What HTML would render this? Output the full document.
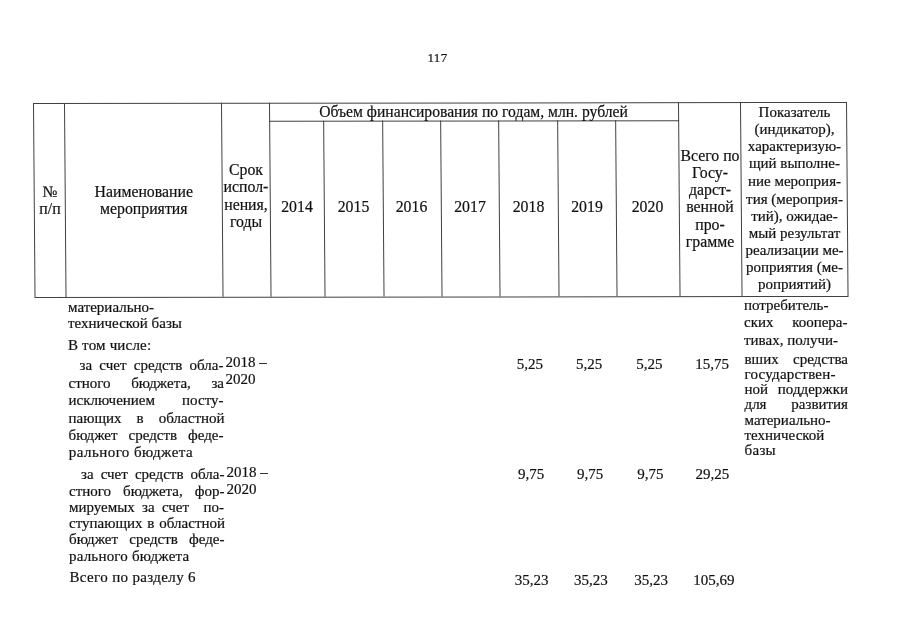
<!DOCTYPE html>
<html lang="ru"><head><meta charset="utf-8"><title>117</title>
<style>
html,body{margin:0;padding:0;background:#fff;}
body{width:905px;height:640px;position:relative;overflow:hidden;}
#wrap{position:absolute;left:0;top:0;width:905px;height:640px;will-change:transform;}
.t{position:absolute;white-space:nowrap;line-height:20px;font-family:"Liberation Serif", "Times New Roman", serif;color:#111;-webkit-text-stroke:0.2px #111;}
.l{position:absolute;background:#404040;}
#grid{position:absolute;left:0;top:0;width:905px;height:640px;transform-origin:33px 103px;transform:skew(0.45deg,-0.07deg);}
</style></head><body>
<div id="wrap">
<div id="grid">
<div class="l" style="left:32.6px;top:103px;width:814.6px;height:1px"></div>
<div class="l" style="left:268.5px;top:121px;width:410.20000000000005px;height:1px"></div>
<div class="l" style="left:32.6px;top:296.8px;width:814.6px;height:1px"></div>
<div class="l" style="left:32.6px;top:103px;width:1px;height:194px"></div>
<div class="l" style="left:63.6px;top:103px;width:1px;height:194px"></div>
<div class="l" style="left:221.4px;top:103px;width:1px;height:194px"></div>
<div class="l" style="left:268.5px;top:103px;width:1px;height:194px"></div>
<div class="l" style="left:677.7px;top:103px;width:1px;height:194px"></div>
<div class="l" style="left:740.0px;top:103px;width:1px;height:194px"></div>
<div class="l" style="left:846.2px;top:103px;width:1px;height:194px"></div>
<div class="l" style="left:323.1px;top:121px;width:1px;height:176px"></div>
<div class="l" style="left:381.7px;top:121px;width:1px;height:176px"></div>
<div class="l" style="left:439.7px;top:121px;width:1px;height:176px"></div>
<div class="l" style="left:498.1px;top:121px;width:1px;height:176px"></div>
<div class="l" style="left:556.8px;top:121px;width:1px;height:176px"></div>
<div class="l" style="left:615.2px;top:121px;width:1px;height:176px"></div>
</div>
<div class="t" style="left:417.50px;top:48px;font-size:13px;width:40.00px;text-align:center;letter-spacing:0.4px;">117</div>
<div class="t" style="left:33.00px;top:182px;font-size:15.8px;width:34.00px;text-align:center;">№</div>
<div class="t" style="left:33.00px;top:199px;font-size:15.8px;width:34.00px;text-align:center;">п/п</div>
<div class="t" style="left:64.00px;top:182px;font-size:15.8px;width:159.50px;text-align:center;">Наименование</div>
<div class="t" style="left:64.00px;top:199px;font-size:15.8px;width:159.50px;text-align:center;">мероприятия</div>
<div class="t" style="left:222.00px;top:160px;font-size:15.8px;width:48.00px;text-align:center;">Срок</div>
<div class="t" style="left:222.00px;top:177px;font-size:15.8px;width:48.00px;text-align:center;">испол-</div>
<div class="t" style="left:222.00px;top:195px;font-size:15.8px;width:48.00px;text-align:center;">нения,</div>
<div class="t" style="left:222.00px;top:212px;font-size:15.8px;width:48.00px;text-align:center;">годы</div>
<div class="t" style="left:269.00px;top:102px;font-size:15.65px;width:409.00px;text-align:center;">Объем финансирования по годам, млн. рублей</div>
<div class="t" style="left:269.00px;top:197px;font-size:15.8px;width:56.00px;text-align:center;">2014</div>
<div class="t" style="left:324.00px;top:197px;font-size:15.8px;width:59.00px;text-align:center;">2015</div>
<div class="t" style="left:382.00px;top:197px;font-size:15.8px;width:59.00px;text-align:center;">2016</div>
<div class="t" style="left:440.00px;top:197px;font-size:15.8px;width:60.00px;text-align:center;">2017</div>
<div class="t" style="left:499.00px;top:197px;font-size:15.8px;width:59.00px;text-align:center;">2018</div>
<div class="t" style="left:557.00px;top:197px;font-size:15.8px;width:60.00px;text-align:center;">2019</div>
<div class="t" style="left:616.00px;top:197px;font-size:15.8px;width:63.00px;text-align:center;">2020</div>
<div class="t" style="left:678.00px;top:146px;font-size:15.8px;width:64.00px;text-align:center;">Всего по</div>
<div class="t" style="left:678.00px;top:163px;font-size:15.8px;width:64.00px;text-align:center;">Госу-</div>
<div class="t" style="left:678.00px;top:180px;font-size:15.8px;width:64.00px;text-align:center;">дарст-</div>
<div class="t" style="left:678.00px;top:197px;font-size:15.8px;width:64.00px;text-align:center;">венной</div>
<div class="t" style="left:678.00px;top:215px;font-size:15.8px;width:64.00px;text-align:center;">про-</div>
<div class="t" style="left:678.00px;top:232px;font-size:15.8px;width:64.00px;text-align:center;">грамме</div>
<div class="t" style="left:741.00px;top:102px;font-size:15px;width:107.00px;text-align:center;">Показатель</div>
<div class="t" style="left:741.00px;top:119px;font-size:15px;width:107.00px;text-align:center;">(индикатор),</div>
<div class="t" style="left:741.00px;top:136px;font-size:15px;width:107.00px;text-align:center;">характеризую-</div>
<div class="t" style="left:741.00px;top:153px;font-size:15px;width:107.00px;text-align:center;">щий выполне-</div>
<div class="t" style="left:741.00px;top:171px;font-size:15px;width:107.00px;text-align:center;">ние мероприя-</div>
<div class="t" style="left:741.00px;top:189px;font-size:15px;width:107.00px;text-align:center;">тия (мероприя-</div>
<div class="t" style="left:741.00px;top:206px;font-size:15px;width:107.00px;text-align:center;">тий), ожидае-</div>
<div class="t" style="left:741.00px;top:223px;font-size:15px;width:107.00px;text-align:center;">мый результат</div>
<div class="t" style="left:741.00px;top:240px;font-size:15px;width:107.00px;text-align:center;">реализации ме-</div>
<div class="t" style="left:741.00px;top:257px;font-size:15px;width:107.00px;text-align:center;">роприятия (ме-</div>
<div class="t" style="left:741.00px;top:274px;font-size:15px;width:107.00px;text-align:center;">роприятий)</div>
<div class="t" style="left:68.00px;top:297px;font-size:15px;">материально-</div>
<div class="t" style="left:68.00px;top:313px;font-size:15px;">технической базы</div>
<div class="t" style="left:68.00px;top:335px;font-size:15px;letter-spacing:0.18px;">В том числе:</div>
<div class="t" style="left:79.50px;top:355px;font-size:15px;width:144.00px;text-align:justify;text-align-last:justify;">за счет средств обла-</div>
<div class="t" style="left:68.50px;top:373px;font-size:15px;width:155.50px;text-align:justify;text-align-last:justify;">стного бюджета, за</div>
<div class="t" style="left:68.50px;top:390px;font-size:15px;width:155.00px;text-align:justify;text-align-last:justify;">исключением посту-</div>
<div class="t" style="left:68.50px;top:408px;font-size:15px;width:156.00px;text-align:justify;text-align-last:justify;">пающих в областной</div>
<div class="t" style="left:68.50px;top:425px;font-size:15px;width:155.00px;text-align:justify;text-align-last:justify;">бюджет средств феде-</div>
<div class="t" style="left:68.80px;top:442px;font-size:15px;letter-spacing:0.45px;">рального бюджета</div>
<div class="t" style="left:225.50px;top:352px;font-size:15px;">2018 –</div>
<div class="t" style="left:225.50px;top:369px;font-size:15px;">2020</div>
<div class="t" style="left:81.00px;top:464px;font-size:15px;width:143.50px;text-align:justify;text-align-last:justify;">за счет средств обла-</div>
<div class="t" style="left:69.00px;top:481px;font-size:15px;width:155.50px;text-align:justify;text-align-last:justify;">стного бюджета, фор-</div>
<div class="t" style="left:69.00px;top:497px;font-size:15px;width:155.00px;text-align:justify;text-align-last:justify;">мируемых за счет &nbsp;по-</div>
<div class="t" style="left:69.00px;top:513px;font-size:15px;width:156.00px;text-align:justify;text-align-last:justify;">ступающих в областной</div>
<div class="t" style="left:69.00px;top:529px;font-size:15px;width:155.50px;text-align:justify;text-align-last:justify;">бюджет средств феде-</div>
<div class="t" style="left:69.00px;top:546px;font-size:15px;letter-spacing:0.2px;">рального бюджета</div>
<div class="t" style="left:226.50px;top:462px;font-size:15px;">2018 –</div>
<div class="t" style="left:226.50px;top:479px;font-size:15px;">2020</div>
<div class="t" style="left:69.50px;top:567px;font-size:15px;letter-spacing:0.35px;">Всего по разделу 6</div>
<div class="t" style="left:499.85px;top:354px;font-size:15px;width:60.00px;text-align:center;">5,25</div>
<div class="t" style="left:559.10px;top:354px;font-size:15px;width:60.00px;text-align:center;">5,25</div>
<div class="t" style="left:619.45px;top:354px;font-size:15px;width:60.00px;text-align:center;">5,25</div>
<div class="t" style="left:682.15px;top:354px;font-size:15px;width:60.00px;text-align:center;">15,75</div>
<div class="t" style="left:501.10px;top:464px;font-size:15px;width:60.00px;text-align:center;">9,75</div>
<div class="t" style="left:560.05px;top:464px;font-size:15px;width:60.00px;text-align:center;">9,75</div>
<div class="t" style="left:620.25px;top:464px;font-size:15px;width:60.00px;text-align:center;">9,75</div>
<div class="t" style="left:682.45px;top:464px;font-size:15px;width:60.00px;text-align:center;">29,25</div>
<div class="t" style="left:501.50px;top:570px;font-size:15px;width:60.00px;text-align:center;">35,23</div>
<div class="t" style="left:560.75px;top:570px;font-size:15px;width:60.00px;text-align:center;">35,23</div>
<div class="t" style="left:621.00px;top:570px;font-size:15px;width:60.00px;text-align:center;">35,23</div>
<div class="t" style="left:683.85px;top:570px;font-size:15px;width:60.00px;text-align:center;">105,69</div>
<div class="t" style="left:744.00px;top:295px;font-size:15px;">потребитель-</div>
<div class="t" style="left:744.00px;top:312px;font-size:15px;width:103.50px;text-align:justify;text-align-last:justify;">ских коопера-</div>
<div class="t" style="left:744.00px;top:330px;font-size:15px;">тивах, получи-</div>
<div class="t" style="left:744.50px;top:349px;font-size:15px;width:103.50px;text-align:justify;text-align-last:justify;">вших средства</div>
<div class="t" style="left:744.50px;top:364px;font-size:15px;letter-spacing:0.22px;">государствен-</div>
<div class="t" style="left:744.50px;top:379px;font-size:15px;width:103.50px;text-align:justify;text-align-last:justify;">ной поддержки</div>
<div class="t" style="left:744.50px;top:394px;font-size:15px;width:103.50px;text-align:justify;text-align-last:justify;">для развития</div>
<div class="t" style="left:744.50px;top:410px;font-size:15px;">материально-</div>
<div class="t" style="left:744.50px;top:425px;font-size:15px;">технической</div>
<div class="t" style="left:744.50px;top:440px;font-size:15px;letter-spacing:0.3px;">базы</div>
</div>
</body></html>
